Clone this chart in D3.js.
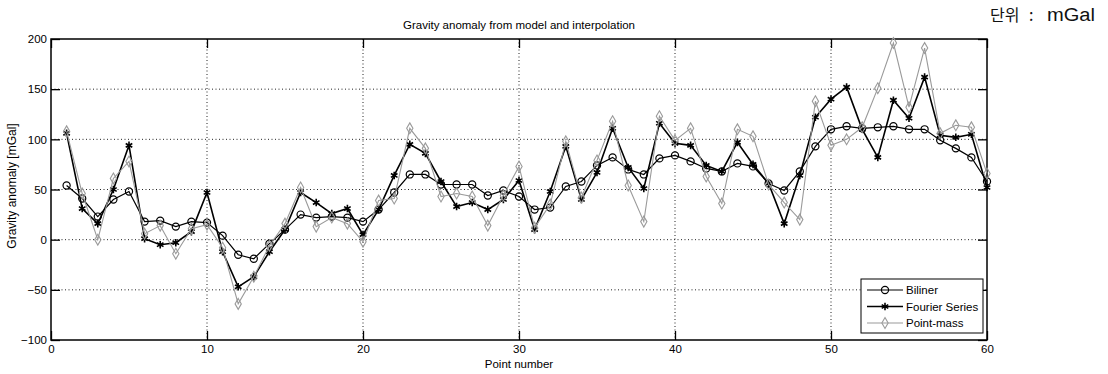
<!DOCTYPE html>
<html>
<head>
<meta charset="utf-8">
<script src="https://cdn.jsdelivr.net/npm/d3@7"></script>
<style>
  body { margin: 0; background: #fff; }
  svg { display: block; font-family: "Liberation Sans", Arial, sans-serif; }
</style>
</head>
<body>
<div id="chart"></div>
<script>
// --- Data ---
const points = d3.range(1, 61);

const biliner = [54, 41, 23, 40, 48, 18, 19, 13, 18, 17,
    4, -15, -19, -4, 10, 25, 22, 23, 22, 18,
    30, 47, 65, 65, 55, 55, 55, 44, 49, 43,
    30, 32, 53, 58, 74, 82, 70, 65, 81, 84,
    78, 71, 68, 76, 73, 56, 49, 68, 93, 110,
    113, 111, 112, 113, 110, 110, 99, 91, 82, 58];

const fourier = [106, 31, 16, 50, 94, 1, -5, -3, 8, 47,
    -12, -47, -37, -12, 10, 47, 37, 26, 31, 5,
    30, 64, 95, 86, 58, 33, 37, 30, 40, 59,
    10, 48, 93, 40, 67, 111, 72, 51, 116, 96,
    94, 74, 68, 97, 75, 56, 16, 64, 122, 140,
    152, 110, 82, 139, 121, 162, 104, 102, 105, 52];

const pointMass = [108, 46, 0, 61, 78, 6, 14, -14, 11, 15,
    -8, -64, -37, -6, 16, 52, 13, 22, 16, -2,
    39, 41, 111, 91, 43, 46, 43, 14, 44, 73,
    12, 35, 98, 42, 79, 118, 54, 18, 123, 99,
    111, 63, 36, 110, 103, 55, 37, 20, 138, 94,
    100, 112, 151, 196, 132, 191, 106, 114, 112, 66];

const seriesNames = ["Biliner", "Fourier Series", "Point-mass"];
const xTicks = [0, 10, 20, 30, 40, 50, 60];
const yTicks = [-100, -50, 0, 50, 100, 150, 200];

// --- Layout ---
const viewW = 1108;
const viewH = 374;
const margin = { top: 39, right: 121, bottom: 34, left: 51 };
const width = viewW - margin.left - margin.right;
const height = viewH - margin.top - margin.bottom;

const svg = d3.select("#chart")
    .append("svg")
    .attr("width", viewW)
    .attr("height", viewH);

const x = d3.scaleLinear().domain([0, 60]).range([margin.left, margin.left + width]);
const y = d3.scaleLinear().domain([-100, 200]).range([margin.top + height, margin.top]);

// Dotted grid
const grid = svg.append("g").attr("stroke", "#222").attr("stroke-width", 1)
    .attr("stroke-dasharray", "1,2.5");
grid.selectAll("line.gx").data(xTicks.slice(1, -1)).enter().append("line")
    .attr("x1", d => x(d)).attr("x2", d => x(d))
    .attr("y1", y(200)).attr("y2", y(-100));
grid.selectAll("line.gy").data(yTicks.slice(1, -1)).enter().append("line")
    .attr("y1", d => y(d)).attr("y2", d => y(d))
    .attr("x1", x(0)).attr("x2", x(60));

// Axes, MATLAB style: ticks inward on all four sides
const tickLen = 9;
const axisStyle = g => {
    g.select(".domain").remove();
    g.selectAll("line").attr("stroke", "#000").attr("stroke-width", 1.3);
    g.selectAll("text").style("font-size", "11.5px").attr("fill", "#000");
};
svg.append("g")
    .attr("transform", `translate(0,${y(-100)})`)
    .call(d3.axisBottom(x).tickValues(xTicks).tickSize(-tickLen).tickPadding(5).tickFormat(d3.format("d")))
    .call(axisStyle);
svg.append("g")
    .attr("transform", `translate(0,${y(200)})`)
    .call(d3.axisTop(x).tickValues(xTicks).tickSize(-tickLen).tickFormat(""))
    .call(axisStyle);
svg.append("g")
    .attr("transform", `translate(${x(0)},0)`)
    .call(d3.axisLeft(y).tickValues(yTicks).tickSize(-tickLen).tickPadding(4).tickFormat(d3.format("d")))
    .call(axisStyle);
svg.append("g")
    .attr("transform", `translate(${x(60)},0)`)
    .call(d3.axisRight(y).tickValues(yTicks).tickSize(-tickLen).tickFormat(""))
    .call(axisStyle);

// Plot frame
svg.append("rect")
    .attr("x", x(0)).attr("y", y(200))
    .attr("width", x(60) - x(0)).attr("height", y(-100) - y(200))
    .attr("fill", "none").attr("stroke", "#000").attr("stroke-width", 1.5);

// --- Series ---
const styles = [
    { color: "#000", symbol: d3.symbolCircle, size: 40, width: 1.2 },
    { color: "#000", symbol: d3.symbolAsterisk, size: 40, width: 1.6 },
    { color: "#9a9a9a", symbol: d3.symbolDiamond, size: 34, width: 1.1 }
];
const allSeries = [biliner, fourier, pointMass];

const line = d3.line().x((d, i) => x(points[i])).y(d => y(d));

allSeries.forEach((vals, k) => {
    const s = styles[k];
    const g = svg.append("g");
    g.append("path")
        .datum(vals)
        .attr("d", line)
        .attr("fill", "none")
        .attr("stroke", s.color)
        .attr("stroke-width", s.width);
    g.selectAll("path.mark")
        .data(vals)
        .enter()
        .append("path")
        .attr("class", "mark")
        .attr("transform", (d, i) => `translate(${x(points[i])},${y(d)})`)
        .attr("d", d3.symbol().type(s.symbol).size(s.size))
        .attr("fill", "none")
        .attr("stroke", s.color)
        .attr("stroke-width", s.width);
});

// --- Legend ---
const legend = svg.append("g").attr("transform", "translate(861,279)");
legend.append("rect")
    .attr("width", 122).attr("height", 54)
    .attr("fill", "#fff").attr("stroke", "#000").attr("stroke-width", 1);
seriesNames.forEach((name, k) => {
    const s = styles[k];
    const ly = 11 + k * 16.5;
    legend.append("line")
        .attr("x1", 6).attr("x2", 42).attr("y1", ly).attr("y2", ly)
        .attr("stroke", s.color).attr("stroke-width", s.width);
    legend.append("path")
        .attr("transform", `translate(24,${ly})`)
        .attr("d", d3.symbol().type(s.symbol).size(s.size))
        .attr("fill", "none").attr("stroke", s.color).attr("stroke-width", s.width);
    legend.append("text")
        .attr("x", 45).attr("y", ly + 4)
        .style("font-size", "11.5px")
        .text(name);
});

// --- Labels ---
svg.append("text")
    .attr("x", (x(0) + x(60)) / 2).attr("y", 29)
    .attr("text-anchor", "middle")
    .style("font-size", "11.5px")
    .text("Gravity anomaly from model and interpolation");

svg.append("text")
    .attr("x", (x(0) + x(60)) / 2).attr("y", 368)
    .attr("text-anchor", "middle")
    .style("font-size", "11.5px")
    .text("Point number");

svg.append("text")
    .attr("transform", `translate(16,186) rotate(-90)`)
    .attr("text-anchor", "middle")
    .style("font-size", "12px")
    .text("Gravity anomaly [mGal]");

// Unit note, top right
const unit = svg.append("g").attr("fill", "#111");
unit.append("text")
    .attr("x", 990).attr("y", 21)
    .style("font-family", "'Noto Sans CJK KR', sans-serif")
    .style("font-size", "16px")
    .text("단위");
unit.append("text")
    .attr("x", 1029).attr("y", 21)
    .style("font-family", "'Noto Sans CJK KR', sans-serif")
    .style("font-size", "16px")
    .text(":");
unit.append("text")
    .attr("x", 1047).attr("y", 21)
    .attr("textLength", 48)
    .attr("lengthAdjust", "spacingAndGlyphs")
    .style("font-size", "18px")
    .text("mGal");
</script>
</body>
</html>
